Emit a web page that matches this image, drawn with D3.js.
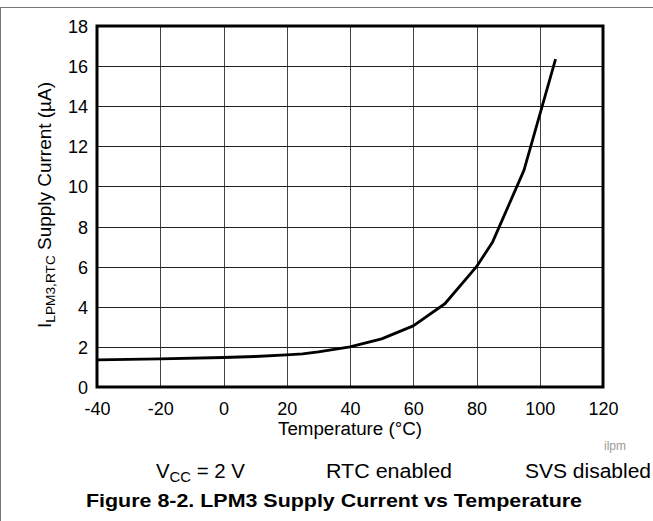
<!DOCTYPE html>
<html><head><meta charset="utf-8">
<script src="https://cdn.jsdelivr.net/npm/d3@7"></script>
<style>body{margin:0;background:#fff}svg{display:block;font-family:"Liberation Sans",Arial,sans-serif}</style>
</head><body><svg id="c" width="653" height="521"></svg>
<script>
const temps = [-40, -20, 0, 10, 20, 25, 30, 40, 50, 60, 70, 80, 85, 95, 105];
const current = [1.35, 1.4, 1.47, 1.52, 1.6, 1.65, 1.75, 2.0, 2.4, 3.05, 4.15, 6.0, 7.2, 10.8, 16.35];
const xTicks = [-40, -20, 0, 20, 40, 60, 80, 100, 120];
const yTicks = [0, 2, 4, 6, 8, 10, 12, 14, 16, 18];
const legendItems = ["V|CC| = 2 V", "RTC enabled", "SVS disabled"];

const svg = d3.select("#c");
const L = 97, R = 603, T = 26, B = 387;
const x = d3.scaleLinear().domain([-40, 120]).range([L, R]);
const y = d3.scaleLinear().domain([0, 18]).range([B, T]);
const fmt = d => String(d).replace("\u2212", "-");

function fit(sel, w) { sel.attr("textLength", w).attr("lengthAdjust", "spacingAndGlyphs"); return sel; }

// page border
svg.append("line").attr("x1",0).attr("x2",653).attr("y1",7.5).attr("y2",7.5).attr("stroke","#777").attr("stroke-width",1);
svg.append("line").attr("x1",0.5).attr("x2",0.5).attr("y1",7).attr("y2",521).attr("stroke","#777").attr("stroke-width",1);

// grid
svg.append("g").selectAll("line").data(xTicks.slice(1,-1)).join("line")
  .attr("x1",d=>Math.round(x(d))+0.5).attr("x2",d=>Math.round(x(d))+0.5).attr("y1",T).attr("y2",B)
  .attr("stroke","#444").attr("stroke-width",1);
svg.append("g").selectAll("line").data(yTicks.slice(1,-1)).join("line")
  .attr("y1",d=>Math.round(y(d))+0.5).attr("y2",d=>Math.round(y(d))+0.5).attr("x1",L).attr("x2",R)
  .attr("stroke","#222").attr("stroke-width",1);

// axes with labels
const xa = svg.append("g").attr("transform",`translate(0,${B})`)
  .call(d3.axisBottom(x).tickValues(xTicks).tickSize(0).tickPadding(0).tickFormat(fmt));
xa.select(".domain").remove();
xa.selectAll("text").attr("dy",null).attr("y",28).attr("font-size",18).attr("fill","#000").attr("font-family","Liberation Sans, Arial, sans-serif");
const ya = svg.append("g").attr("transform",`translate(${L},0)`)
  .call(d3.axisLeft(y).tickValues(yTicks).tickSize(0).tickPadding(9).tickFormat(fmt));
ya.select(".domain").remove();
ya.selectAll("text").attr("dy","0.36em").attr("font-size",18).attr("fill","#000").attr("font-family","Liberation Sans, Arial, sans-serif");

// frame
svg.append("rect").attr("x",L).attr("y",T).attr("width",R-L).attr("height",B-T)
  .attr("fill","none").attr("stroke","#000").attr("stroke-width",3);

// curve
svg.append("path").datum(temps.map((t,i)=>[t,current[i]]))
  .attr("d", d3.line().x(d=>x(d[0])).y(d=>y(d[1])))
  .attr("fill","none").attr("stroke","#000").attr("stroke-width",2.8).attr("stroke-linejoin","round");

// axis titles
fit(svg.append("text").attr("x",350).attr("y",435).attr("text-anchor","middle").attr("font-size",18).text("Temperature (°C)"), 144);
const yt = svg.append("text").attr("transform",`translate(51,205) rotate(-90)`).attr("text-anchor","middle").attr("font-size",18);
yt.append("tspan").text("I");
yt.append("tspan").attr("font-size",13).attr("dy",4).text("LPM3,RTC");
yt.append("tspan").attr("dy",-4).text(" Supply Current (µA)");
fit(yt, 246);

// ilpm
svg.append("text").attr("x",604).attr("y",450).attr("font-size",12).attr("fill","#999").text("ilpm");

// legend line
const lx = [156, 326, 525];
const lw = [89, 126, 126];
legendItems.forEach((s,i)=>{
  const t = svg.append("text").attr("x",lx[i]).attr("y",478).attr("font-size",20);
  const parts = s.split("|");
  if (parts.length === 3) {
    t.append("tspan").text(parts[0]);
    t.append("tspan").attr("font-size",14.5).attr("dy",4).text(parts[1]);
    t.append("tspan").attr("dy",-4).text(parts[2]);
  } else t.text(s);
  fit(t, lw[i]);
});

// figure title
fit(svg.append("text").attr("x",334).attr("y",507).attr("text-anchor","middle").attr("font-size",19).attr("font-weight","bold")
  .text("Figure 8-2. LPM3 Supply Current vs Temperature"), 496);
</script></body></html>
